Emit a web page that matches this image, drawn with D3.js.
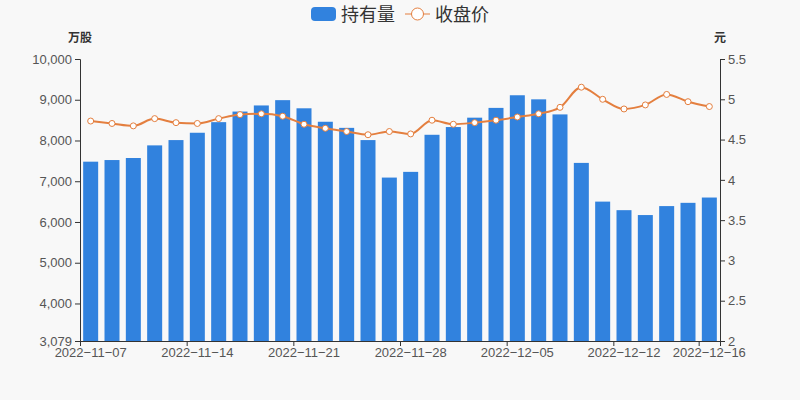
<!DOCTYPE html>
<html>
<head>
<meta charset="utf-8">
<script src="https://cdn.jsdelivr.net/npm/d3@7"></script>
<style>
body { margin: 0; background: #f8f8f8; }
svg { display: block; font-family: "Liberation Sans", Arial, "Noto Sans CJK SC", sans-serif; }
</style>
</head>
<body>
<svg width="800" height="400"></svg>
<script>
// trading days
var dates = ["2022-11-07","2022-11-08","2022-11-09","2022-11-10","2022-11-11",
  "2022-11-14","2022-11-15","2022-11-16","2022-11-17","2022-11-18",
  "2022-11-21","2022-11-22","2022-11-23","2022-11-24","2022-11-25",
  "2022-11-28","2022-11-29","2022-11-30","2022-12-01","2022-12-02",
  "2022-12-05","2022-12-06","2022-12-07","2022-12-08","2022-12-09",
  "2022-12-12","2022-12-13","2022-12-14","2022-12-15","2022-12-16"];
// 持有量 (万股)
var holdings = [7480,7520,7570,7880,8010,8190,8450,8710,8860,8990,
  8790,8460,8310,8010,7090,7230,8140,8330,8560,8800,
  9110,9010,8640,7450,6500,6290,6170,6390,6470,6600];
// 收盘价 (元)
var prices = [4.73,4.70,4.67,4.76,4.71,4.70,4.76,4.81,4.82,4.79,
  4.69,4.64,4.60,4.56,4.60,4.57,4.74,4.69,4.71,4.74,
  4.78,4.82,4.90,5.15,5.00,4.88,4.93,5.06,4.97,4.91];
var leftTicks = [3079,4000,5000,6000,7000,8000,9000,10000];
var rightTicks = [2,2.5,3,3.5,4,4.5,5,5.5];
var xTickIdx = [0,5,10,15,20,25,29];

var svg = d3.select("svg");
var mLeft = 80, mRight = 720, mTop = 59, mBottom = 341;

var x = d3.scaleBand().domain(dates).range([mLeft, mRight]);
var band = x.bandwidth();
var yl = d3.scaleLinear().domain([3079, 10000]).range([mBottom, mTop]);
var yr = d3.scaleLinear().domain([2, 5.5]).range([mBottom, mTop]);
var cx = i => x(dates[i]) + band / 2;

// bars
svg.append("g").selectAll("rect")
  .data(holdings)
  .enter().append("rect")
  .attr("x", (d, i) => cx(i) - 7.5)
  .attr("width", 15)
  .attr("y", d => yl(d))
  .attr("height", d => mBottom - yl(d))
  .attr("fill", "#3182de");

// price line
var line = d3.line().x((d, i) => cx(i)).y(d => yr(d)).curve(d3.curveMonotoneX);
svg.append("path").datum(prices)
  .attr("d", line)
  .attr("fill", "none")
  .attr("stroke", "#e47f3f")
  .attr("stroke-width", 2);
svg.append("g").selectAll("circle")
  .data(prices)
  .enter().append("circle")
  .attr("cx", (d, i) => cx(i))
  .attr("cy", d => yr(d))
  .attr("r", 3)
  .attr("fill", "#fff")
  .attr("stroke", "#e47f3f")
  .attr("stroke-width", 1);

// left axis
var gl = svg.append("g").attr("transform", "translate(" + mLeft + ",0)")
  .call(d3.axisLeft(yl).tickValues(leftTicks).tickFormat(d3.format(",")).tickSizeOuter(0).tickSize(5).tickPadding(3));
// right axis
var gr = svg.append("g").attr("transform", "translate(" + mRight + ",0)")
  .call(d3.axisRight(yr).tickValues(rightTicks).tickFormat(d3.format("~g")).tickSizeOuter(0).tickSize(5).tickPadding(3));
// x axis
var xl = d3.scaleLinear().domain([0, dates.length]).range([mLeft, mRight]);
var gx = svg.append("g").attr("transform", "translate(0," + mBottom + ")")
  .call(d3.axisBottom(xl).tickValues(xTickIdx).tickFormat("").tickSizeOuter(0).tickSize(5));
gx.selectAll(".lbl").data(xTickIdx).enter().append("text")
  .attr("class", "lbl")
  .attr("x", i => cx(i))
  .attr("y", 16)
  .attr("text-anchor", "middle")
  .text(i => dates[i].replace(/-/g, "\u2212"));

[gl, gr, gx].forEach(function(g) {
  g.select(".domain").attr("stroke", "#333").attr("stroke-width", 1);
  g.selectAll(".tick line").attr("stroke", "#333");
  g.selectAll("text").attr("fill", "#555").style("font-size", "13px")
    .style("font-family", "'Liberation Sans', Arial, sans-serif");
});

// axis names
svg.append("text").attr("x", 80).attr("y", 42).attr("text-anchor", "middle")
  .style("font-size", "12px").style("font-weight", "bold").attr("fill", "#333")
  .style("font-family", "'Noto Sans CJK SC', sans-serif").text("万股");
svg.append("text").attr("x", 720).attr("y", 42).attr("text-anchor", "middle")
  .style("font-size", "12px").style("font-weight", "bold").attr("fill", "#333")
  .style("font-family", "'Noto Sans CJK SC', sans-serif").text("元");

// legend
var lg = svg.append("g").style("font-family", "'Noto Sans CJK SC', sans-serif");
lg.append("rect").attr("x", 311).attr("y", 7).attr("width", 25).attr("height", 14).attr("rx", 4)
  .attr("fill", "#3182de");
lg.append("text").attr("x", 341).attr("y", 21).style("font-size", "18px").attr("fill", "#333").text("持有量");
lg.append("line").attr("x1", 405).attr("x2", 430).attr("y1", 14).attr("y2", 14)
  .attr("stroke", "#e47f3f").attr("stroke-width", 1);
lg.append("circle").attr("cx", 417.5).attr("cy", 14).attr("r", 6)
  .attr("fill", "#fff").attr("stroke", "#e47f3f").attr("stroke-width", 1);
lg.append("text").attr("x", 435).attr("y", 21).style("font-size", "18px").attr("fill", "#333").text("收盘价");
</script>
</body>
</html>
